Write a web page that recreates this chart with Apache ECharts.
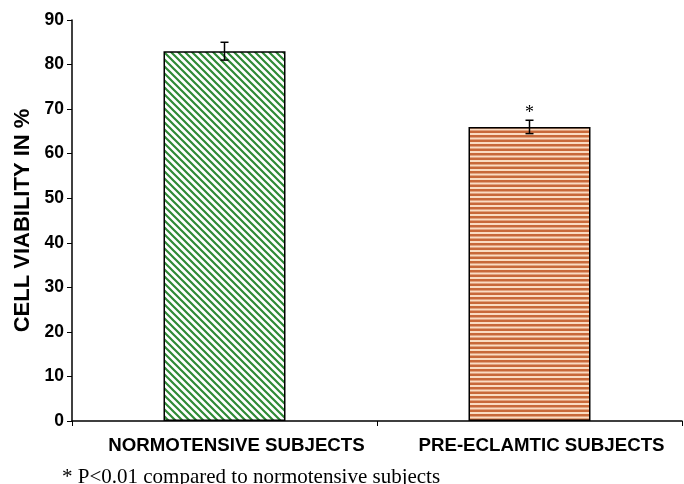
<!DOCTYPE html>
<html>
<head>
<meta charset="utf-8">
<script src="https://cdn.jsdelivr.net/npm/echarts@6/dist/echarts.min.js"></script>
<style>
  html, body { margin: 0; padding: 0; background: #fff; }
  #chart { width: 684px; height: 484px; }
</style>
</head>
<body>
<div id="chart"></div>
<script>
// data
var groups = ['NORMOTENSIVE SUBJECTS', 'PRE-ECLAMTIC SUBJECTS'];
var viability = [83, 66];
var errors = [2, 1.5];
var marks = ['', '*'];
var yTicks = [0, 90, 10];

// 斜线填充
function makeDiag() {
    var c = document.createElement('canvas');
    c.width = 7; c.height = 7;
    var g = c.getContext('2d');
    g.fillStyle = '#ffffff';
    g.fillRect(0, 0, 7, 7);
    g.strokeStyle = '#2f8a36';
    g.lineWidth = 2.2;
    g.beginPath();
    g.moveTo(-1, -1); g.lineTo(8, 8);
    g.moveTo(-8, -1); g.lineTo(1, 8);
    g.moveTo(6, -1); g.lineTo(15, 8);
    g.stroke();
    return c;
}
// 横线填充
function makeHoriz() {
    var c = document.createElement('canvas');
    c.width = 4; c.height = 9;
    var g = c.getContext('2d');
    g.fillStyle = '#fadcc2';
    g.fillRect(0, 0, 4, 9);
    g.fillStyle = '#c8693a';
    g.fillRect(0, 0, 4, 2.5);
    g.fillRect(0, 4.5, 4, 2.5);
    return c;
}

var chart = echarts.init(document.getElementById('chart'));
var option = {
    animation: false,
    grid: { left: 72, right: 2, top: 20, bottom: 63 },
    title: {
        text: '* P<0.01 compared to normotensive subjects',
        left: 57, top: 462,
        textStyle: { fontFamily: 'Liberation Serif', fontSize: 21, fontWeight: 'normal', color: '#000' }
    },
    xAxis: {
        type: 'category',
        data: groups,
        axisLine: { lineStyle: { color: '#000', width: 1.5 } },
        axisTick: { show: true, length: 5, lineStyle: { color: '#000' } },
        axisLabel: {
            interval: 0, hideOverlap: false,
            fontFamily: 'Liberation Sans', fontWeight: 'bold', fontSize: 18.7, color: '#000',
            margin: 15, padding: [0, 0, 0, 24]
        }
    },
    yAxis: {
        type: 'value',
        min: yTicks[0], max: yTicks[1], interval: yTicks[2],
        name: 'CELL VIABILITY IN %',
        nameLocation: 'middle',
        nameGap: 38,
        nameTextStyle: { fontFamily: 'Liberation Sans', fontWeight: 'bold', fontSize: 22, color: '#000' },
        axisLine: { show: true, lineStyle: { color: '#000', width: 1.5 } },
        axisTick: { show: true, length: 5, lineStyle: { color: '#000' } },
        splitLine: { show: false },
        axisLabel: { fontFamily: 'Liberation Sans', fontWeight: 'bold', fontSize: 17.5, color: '#000', margin: 8 }
    },
    series: [
        {
            type: 'bar',
            barWidth: '40%',
            data: [
                { value: viability[0], itemStyle: { color: { image: makeDiag(), repeat: 'repeat' } } },
                { value: viability[1], itemStyle: { color: { image: makeHoriz(), repeat: 'repeat' } } }
            ],
            itemStyle: { borderColor: '#000', borderWidth: 1.5 }
        },
        {
            type: 'custom',
            data: viability.map(function (v, i) { return [i, v, errors[i], marks[i]]; }),
            renderItem: function (params, api) {
                var x = api.coord([api.value(0), 0])[0];
                var hi = api.coord([api.value(0), api.value(1) + api.value(2)]);
                var lo = api.coord([api.value(0), api.value(1) - api.value(2)]);
                var st = { stroke: '#000', lineWidth: 1.5 };
                var kids = [
                    { type: 'line', shape: { x1: x, y1: hi[1], x2: x, y2: lo[1] }, style: st },
                    { type: 'line', shape: { x1: x - 4, y1: hi[1], x2: x + 4, y2: hi[1] }, style: st },
                    { type: 'line', shape: { x1: x - 4, y1: lo[1], x2: x + 4, y2: lo[1] }, style: st }
                ];
                var m = api.value(3);
                if (m && m !== '-') {
                    kids.push({
                        type: 'text',
                        style: { text: m, x: x, y: hi[1] + 2, align: 'center', verticalAlign: 'bottom',
                                 font: '18px "Liberation Serif"', fill: '#000' }
                    });
                }
                return { type: 'group', children: kids };
            },
            z: 5
        }
    ]
};
chart.setOption(option);
</script>
</body>
</html>
